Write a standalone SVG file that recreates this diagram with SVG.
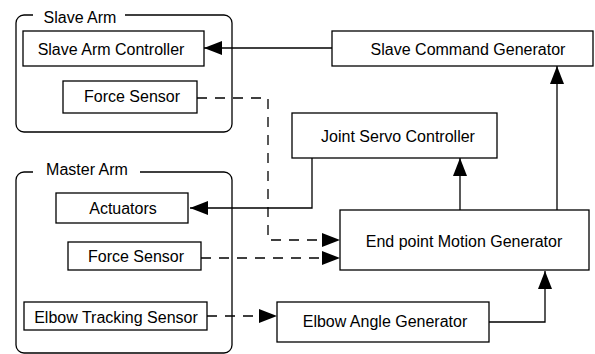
<svg xmlns="http://www.w3.org/2000/svg" width="595" height="354" viewBox="0 0 595 354">
<style>
.box{fill:#fff;stroke:#000;stroke-width:1.3}
.grp{fill:none;stroke:#000;stroke-width:1.3}
.t{font-family:"Liberation Sans",Arial,sans-serif;font-size:16px;fill:#000;text-anchor:middle}
.ln{fill:none;stroke:#000;stroke-width:1.3}
.ds{fill:none;stroke:#000;stroke-width:1.3;stroke-dasharray:10,8}
</style>
<defs>
<marker id="ah" markerUnits="userSpaceOnUse" markerWidth="20" markerHeight="16" refX="18" refY="7" orient="auto">
<path d="M0,0 L18,7 L0,14 Z" fill="#000"/>
</marker>
</defs>
<rect width="595" height="354" fill="#fff"/>
<g id="slave-arm">
<path class="grp" d="M33,15 H24 A8,8 0 0 0 16,23 V124 A8,8 0 0 0 24,132 H224 A8,8 0 0 0 232,124 V23 A8,8 0 0 0 224,15 H125"/>
<text class="t" x="80" y="23">Slave Arm</text>
</g>
<g id="master-arm">
<path class="grp" d="M33,172 H24 A8,8 0 0 0 16,180 V345 A8,8 0 0 0 24,353 H224 A8,8 0 0 0 232,345 V180 A8,8 0 0 0 224,172 H140"/>
<text class="t" x="87" y="175">Master Arm</text>
</g>
<g id="connectors">
<path class="ln" d="M332,48 H204" marker-end="url(#ah)"/>
<path class="ln" d="M460,210 V158" marker-end="url(#ah)"/>
<path class="ln" d="M557,210 V66" marker-end="url(#ah)"/>
<path class="ln" d="M312,158 V208 H190" marker-end="url(#ah)"/>
<path class="ln" d="M489,322 H545 V271" marker-end="url(#ah)"/>
<path class="ds" d="M197,98 H268 V240 H340" marker-end="url(#ah)"/>
<path class="ds" d="M201,258 H340" marker-end="url(#ah)"/>
<path class="ds" d="M207,316 H277" marker-end="url(#ah)"/>
</g>
<g id="slave-arm-controller">
<rect class="box" x="23" y="31" width="181" height="35"/>
<text class="t" x="111" y="55">Slave Arm Controller</text>
</g>
<g id="slave-force-sensor">
<rect class="box" x="63" y="81" width="134" height="32"/>
<text class="t" x="132" y="102">Force Sensor</text>
</g>
<g id="slave-command-generator">
<rect class="box" x="332" y="31" width="261" height="35"/>
<text class="t" x="468" y="55">Slave Command Generator</text>
</g>
<g id="joint-servo-controller">
<rect class="box" x="292" y="113" width="205" height="45"/>
<text class="t" x="398" y="142">Joint Servo Controller</text>
</g>
<g id="actuators">
<rect class="box" x="56" y="193" width="132" height="30"/>
<text class="t" x="123" y="214">Actuators</text>
</g>
<g id="master-force-sensor">
<rect class="box" x="68" y="242" width="133" height="28"/>
<text class="t" x="136" y="262">Force Sensor</text>
</g>
<g id="elbow-tracking-sensor">
<rect class="box" x="24" y="302" width="183" height="28"/>
<text class="t" x="116" y="323">Elbow Tracking Sensor</text>
</g>
<g id="elbow-angle-generator">
<rect class="box" x="277" y="302" width="212" height="40"/>
<text class="t" x="385" y="327">Elbow Angle Generator</text>
</g>
<g id="endpoint-motion-generator">
<rect class="box" x="340" y="210" width="249" height="60"/>
<text class="t" x="464" y="247">End point Motion Generator</text>
</g>
</svg>
